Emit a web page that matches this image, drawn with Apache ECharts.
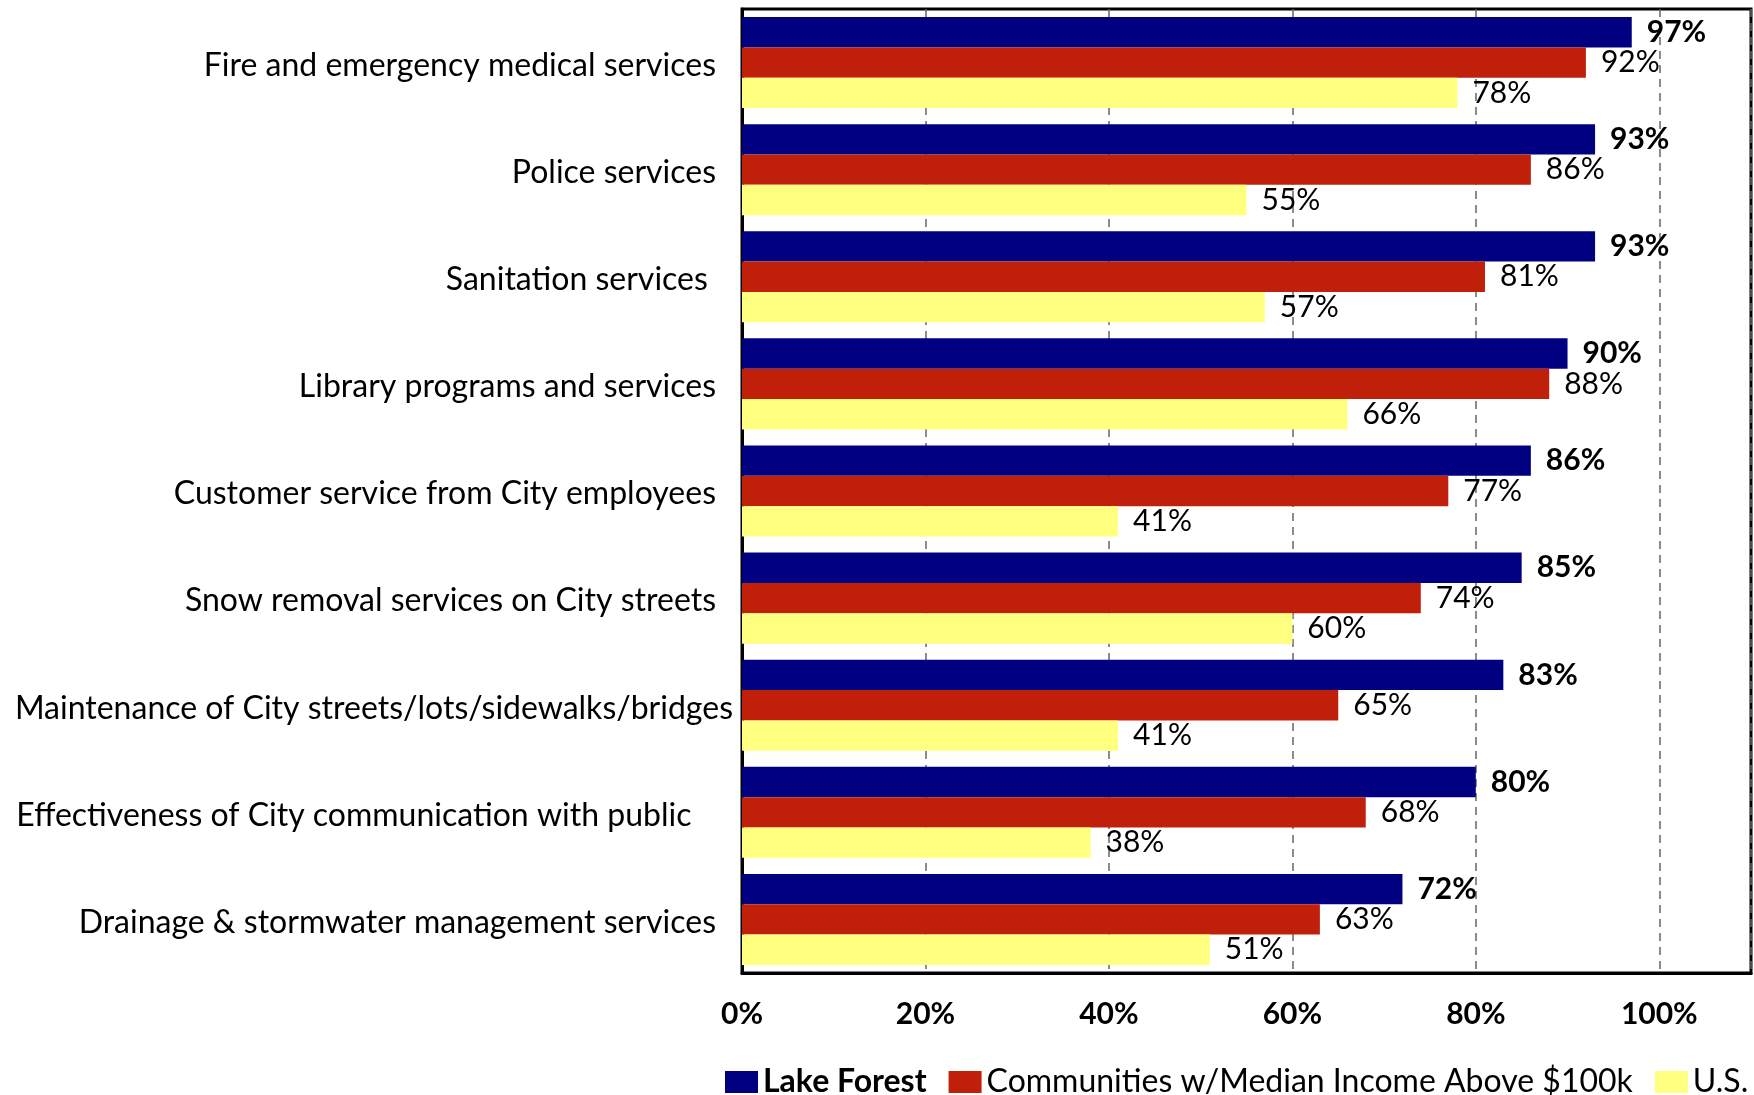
<!DOCTYPE html>
<html>
<head>
<meta charset="utf-8">
<script src="https://cdn.jsdelivr.net/npm/echarts@6/dist/echarts.min.js"></script>
<style>
    html,body{margin:0;padding:0;background:#fff;}
    #main{width:1754px;height:1095px;}
</style>
</head>
<body>
<div id="main"></div>
<script>
var categories = [
    'Fire and emergency medical services',
    'Police services',
    'Sanitation services ',
    'Library programs and services',
    'Customer service from City employees',
    'Snow removal services on City streets',
    'Maintenance of City streets/lots/sidewalks/bridges',
    'Effectiveness of City communication with public   ',
    'Drainage & stormwater management services'
];
var lakeForest = [97, 93, 93, 90, 86, 85, 83, 80, 72];
var communities = [92, 86, 81, 88, 77, 74, 65, 68, 63];
var us = [78, 55, 57, 66, 41, 60, 41, 38, 51];
var seriesNames = ['Lake Forest', 'Communities w/Median Income Above $100k', 'U.S.'];

var font = 'Lato';

function barSeries(name, data, color, bold) {
    return {
        name: name,
        type: 'bar',
        data: data,
        barGap: '0%',
        barCategoryGap: '15%',
        itemStyle: {color: color},
        label: {
            show: true,
            position: 'right',
            distance: 15,
            formatter: '{c}%',
            color: '#000',
            fontFamily: font,
            fontSize: 30,
            fontWeight: bold ? 'bold' : 'normal'
        }
    };
}

var myChart = echarts.init(document.getElementById('main'));
var option = {
    animation: false,
    textStyle: {fontFamily: font},
    grid: {
        left: 742,
        top: 9,
        right: 3,
        bottom: 122,
        show: true,
        borderColor: '#000',
        borderWidth: 3,
        containLabel: false
    },
    legend: {
        data: seriesNames,
        left: 725,
        top: 1066,
        width: 1060,
        padding: 0,
        itemWidth: 33,
        itemHeight: 22,
        itemGap: 22,
        icon: 'rect',
        textStyle: {
            fontFamily: font,
            fontSize: 32,
            color: '#000',
            rich: {
                b: {fontFamily: font, fontSize: 32, fontWeight: 'bold', color: '#000'}
            }
        },
        formatter: function (name) {
            return name === 'Lake Forest' ? '{b|' + name + '}' : name;
        }
    },
    xAxis: {
        type: 'value',
        min: 0,
        max: 110,
        interval: 20,
        axisLine: {show: true, lineStyle: {color: '#000', width: 3}},
        axisTick: {show: false},
        splitLine: {show: true, lineStyle: {color: '#666', type: [8, 6], width: 1.5}},
        axisLabel: {
            margin: 26,
            fontFamily: font,
            fontSize: 30,
            fontWeight: 'bold',
            color: '#000',
            formatter: function (v) { return v <= 100 ? v + '%' : ''; }
        }
    },
    yAxis: {
        type: 'category',
        data: categories,
        inverse: true,
        axisLine: {show: true, lineStyle: {color: '#000', width: 3}},
        axisTick: {show: false},
        axisLabel: {
            margin: 9,
            fontFamily: font,
            fontSize: 32,
            color: '#000',
            lineHeight: 40,
            formatter: function (v) {
                return v.indexOf('Maintenance') === 0 ? '{w|' + v + '}' : '{n|' + v + '}';
            },
            rich: {
                n: {fontFamily: font, fontSize: 32, color: '#000', padding: [6, 17, 0, 0]},
                w: {fontFamily: font, fontSize: 32, color: '#000', padding: [6, 0, 0, 0]}
            }
        }
    },
    series: [
        barSeries(seriesNames[0], lakeForest, '#000080', true),
        barSeries(seriesNames[1], communities, '#C0200A', false),
        barSeries(seriesNames[2], us, '#FFFF80', false)
    ]
};
myChart.setOption(option);
</script>
</body>
</html>
